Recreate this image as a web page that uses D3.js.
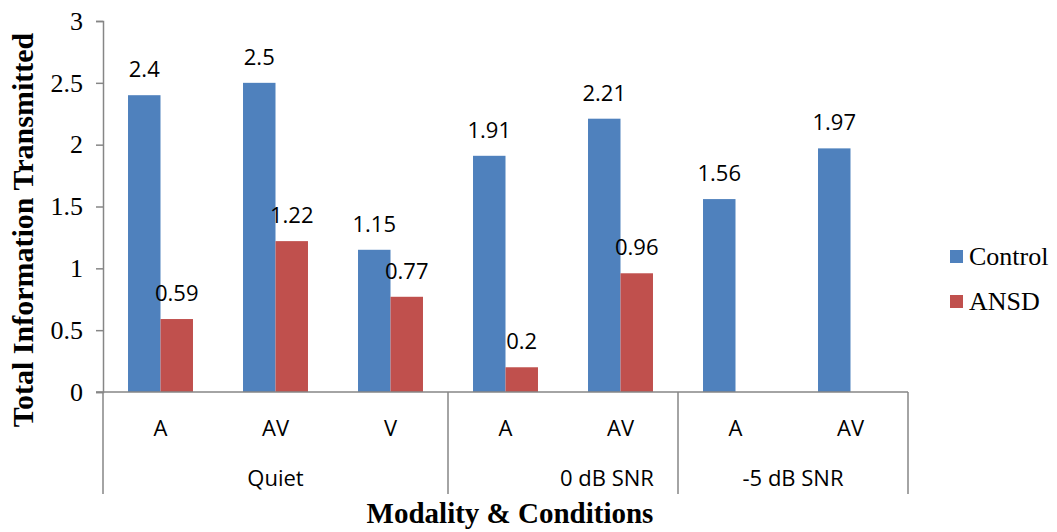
<!DOCTYPE html>
<html>
<head>
<meta charset="utf-8">
<script src="https://cdn.jsdelivr.net/npm/d3@7"></script>
<style>
  body { margin: 0; background: #fff; }
  .sans { font-family: "Open Sans", sans-serif; }
  .serif { font-family: "Liberation Serif", "Times New Roman", serif; }
</style>
</head>
<body>
<div class="chart"></div>
<script>
var categories = ["A", "AV", "V", "A", "AV", "A", "AV"];
var groups = ["Quiet", "0 dB SNR", "-5 dB SNR"];
var groupSizes = [3, 2, 2];
var seriesNames = ["Control", "ANSD"];
var control = [2.4, 2.5, 1.15, 1.91, 2.21, 1.56, 1.97];
var ansd = [0.59, 1.22, 0.77, 0.2, 0.96, null, null];
var yTicks = [0, 0.5, 1, 1.5, 2, 2.5, 3];

var colors = { "Control": "#4F81BD", "ANSD": "#C0504D" };
var axisColor = "#868686";

var svgWidth = 1057;
var svgHeight = 532;

var svg = d3.select(".chart")
  .append("svg")
  .attr("width", svgWidth)
  .attr("height", svgHeight);

var x0 = d3.scaleBand()
  .domain(d3.range(categories.length))
  .range([103, 908])
  .padding(0);

var x1 = d3.scaleBand()
  .domain(seriesNames)
  .range([0, x0.bandwidth()])
  .paddingInner(0)
  .paddingOuter(0.77);

var y = d3.scaleLinear()
  .domain([0, 3])
  .range([392, 21]);

// y axis
var leftAxis = d3.axisLeft(y)
  .tickValues(yTicks)
  .tickSize(7)
  .tickPadding(13)
  .tickFormat(d3.format("~g"));

var yAxis = svg.append("g")
  .attr("transform", "translate(103,0)")
  .call(leftAxis);
yAxis.select(".domain").attr("stroke", axisColor).attr("stroke-width", 1.5);
yAxis.selectAll(".tick line").attr("stroke", axisColor).attr("stroke-width", 1.5);
yAxis.selectAll(".tick text")
  .attr("class", "serif")
  .style("font-size", "26px")
  .attr("fill", "#000");

// bars
var rows = categories.map(function(c, i) {
  return { i: i, values: [
    { key: "Control", value: control[i] },
    { key: "ANSD", value: ansd[i] }
  ] };
});

var catGroups = svg.selectAll(".cat")
  .data(rows)
  .enter()
  .append("g")
  .attr("class", "cat")
  .attr("transform", d => `translate(${x0(d.i)},0)`);

var barData = catGroups.selectAll("rect")
  .data(d => d.values.filter(v => v.value != null))
  .enter();

barData.append("rect")
  .attr("x", d => x1(d.key))
  .attr("y", d => y(d.value))
  .attr("width", x1.bandwidth())
  .attr("height", d => y(0) - y(d.value))
  .attr("fill", d => colors[d.key]);

barData.append("text")
  .attr("class", "sans")
  .attr("x", d => x1(d.key) + x1.bandwidth() / 2)
  .attr("y", d => y(d.value) - 18)
  .attr("text-anchor", "middle")
  .style("font-size", "22px")
  .attr("fill", "#000")
  .text(d => d.value);

// x axis line
svg.append("line")
  .attr("x1", 96).attr("x2", x0.range()[1])
  .attr("y1", y(0)).attr("y2", y(0))
  .attr("stroke", axisColor).attr("stroke-width", 1.5);

// category labels
svg.selectAll(".catLabel")
  .data(categories)
  .enter()
  .append("text")
  .attr("class", "sans")
  .attr("x", (d, i) => x0(i) + x0.bandwidth() / 2)
  .attr("y", 436)
  .attr("text-anchor", "middle")
  .style("font-size", "22px")
  .text(d => d);

// group separators and labels
var bounds = [0];
groupSizes.forEach(function(n, i) { bounds.push(bounds[i] + n); });

svg.selectAll(".sep")
  .data(bounds)
  .enter()
  .append("line")
  .attr("x1", d => d < categories.length ? x0(d) : x0.range()[1])
  .attr("x2", d => d < categories.length ? x0(d) : x0.range()[1])
  .attr("y1", y(0))
  .attr("y2", 494)
  .attr("stroke", axisColor)
  .attr("stroke-width", 1.5);

svg.selectAll(".groupLabel")
  .data(groups)
  .enter()
  .append("text")
  .attr("class", "sans")
  .attr("x", function(d, i) {
    var a = x0(bounds[i]);
    var b = bounds[i + 1] < categories.length ? x0(bounds[i + 1]) : x0.range()[1];
    return (a + b) / 2 + (i === 1 ? 44 : 0);
  })
  .attr("y", 486)
  .attr("text-anchor", "middle")
  .style("font-size", "22px")
  .text(d => d);

// axis titles
svg.append("text")
  .attr("class", "serif")
  .attr("transform", "translate(33,230) rotate(-90)")
  .attr("text-anchor", "middle")
  .style("font-size", "30px")
  .style("font-weight", "bold")
  .text("Total Information Transmitted");

svg.append("text")
  .attr("class", "serif")
  .attr("x", 510)
  .attr("y", 523)
  .attr("text-anchor", "middle")
  .style("font-size", "29px")
  .style("font-weight", "bold")
  .text("Modality & Conditions");

// legend
var legend = svg.selectAll(".legend")
  .data(seriesNames)
  .enter()
  .append("g")
  .attr("class", "legend")
  .attr("transform", (d, i) => `translate(950,${250 + i * 45})`);

legend.append("rect")
  .attr("width", 13)
  .attr("height", 13)
  .attr("fill", d => colors[d]);

legend.append("text")
  .attr("class", "serif")
  .attr("x", 19)
  .attr("y", 15)
  .style("font-size", "26px")
  .text(d => d);
</script>
</body>
</html>
